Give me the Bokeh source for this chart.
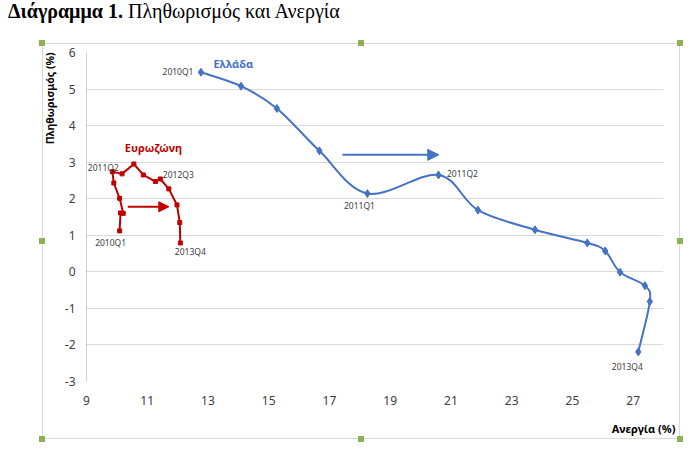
import numpy as np
from bokeh.plotting import figure
from bokeh.layouts import column
from bokeh.models import (Label, Arrow, NormalHead, FixedTicker, Range1d, Title, Div,
                          InlineStyleSheet)
from bokeh.core.properties import value
from bokeh.embed import file_html
from bokeh.resources import INLINE

# Ελλάδα: ανεργία (%) / πληθωρισμός (%), 2010Q1 -> 2013Q4
greece_unemp = [12.77, 14.09, 15.27, 16.67, 18.25, 20.59, 21.89, 23.77, 25.49, 26.08, 26.57, 27.39, 27.55, 27.17]
greece_infl = [5.46, 5.08, 4.47, 3.31, 2.14, 2.65, 1.69, 1.15, 0.79, 0.57, -0.01, -0.38, -0.81, -2.19]

# Ευρωζώνη
ez_unemp = [10.09, 10.12, 10.21, 10.09, 9.90, 9.85, 10.17, 10.56, 10.87, 11.27, 11.43, 11.71, 11.98, 12.07, 12.09]
ez_infl = [1.12, 1.61, 1.60, 2.01, 2.43, 2.74, 2.68, 2.95, 2.65, 2.47, 2.54, 2.27, 1.83, 1.35, 0.79]

# σημεία με ετικέτα: (δείκτης, κείμενο, x_offset, y_offset)
greece_labels = [(0, "2010Q1", -23, -1), (4, "2011Q1", -8, 12), (5, "2011Q2", 24, -1), (13, "2013Q4", -11, 15)]
ez_labels = [(0, "2010Q1", -9, 12), (5, "2011Q2", -9, -4), (10, "2012Q3", 18, -4), (14, "2013Q4", 10, 9)]

x_ticks = list(range(9, 28, 2))
y_ticks = list(range(-3, 7))

BLUE = "#4472c4"
RED = "#c00000"
GREY_TXT = "#404040"
FONT = "Noto Sans"

# πλαίσιο του γραφήματος (όπως στο excel) με τις πράσινες λαβές
GREEN = "linear-gradient(#8db255, #8db255)"
frame_css = InlineStyleSheet(css="""
:host { overflow: visible; }
:host::before {
  content: ""; position: absolute; left: 6px; top: 0px; width: 638px; height: 396px;
  border: 1.5px solid #d9d9d9; box-sizing: border-box; pointer-events: none; z-index: 9;
}
:host::after {
  content: ""; position: absolute; left: 3px; top: -3px; width: 644px; height: 402px;
  pointer-events: none; z-index: 10;
  background-image: %s;
  background-size: 6px 6px; background-repeat: no-repeat;
  background-position: left top, center top, right top, left center, right center,
    left bottom, center bottom, right bottom;
}
""" % ", ".join([GREEN] * 8))

p = figure(frame_width=577, frame_height=329,
           x_range=Range1d(9, 28), y_range=Range1d(-3, 6),
           min_border_left=50, min_border_right=17, min_border_top=9, min_border_bottom=59,
           output_backend="svg", toolbar_location=None, margin=(0, 0, 0, 36),
           stylesheets=[frame_css])
p.outline_line_color = None
p.background_fill_color = "white"
p.border_fill_color = "white"

p.xgrid.grid_line_color = None
p.ygrid.grid_line_color = "#d9d9d9"
p.ygrid.ticker = FixedTicker(ticks=y_ticks)

p.xaxis.ticker = FixedTicker(ticks=x_ticks)
p.yaxis.ticker = FixedTicker(ticks=y_ticks)
p.yaxis.major_label_overrides = {t: str(t) for t in y_ticks}
for ax in (p.xaxis, p.yaxis):
    ax.major_tick_line_color = None
    ax.minor_tick_line_color = None
    ax.major_label_text_font = FONT
    ax.major_label_text_font_size = "12px"
    ax.major_label_text_color = GREY_TXT
p.xaxis.axis_line_color = None
p.yaxis.axis_line_color = "#d0d0d0"
p.xaxis.major_label_standoff = 8
p.yaxis.major_label_standoff = 5

# τίτλοι αξόνων
p.add_layout(Title(text="Πληθωρισμός (%)", align="right", offset=0, standoff=9,
                   text_font=FONT, text_font_size="10.5px", text_font_style="bold", text_color="black"), "left")
p.add_layout(Title(text="Ανεργία (%)", align="right", offset=-12, standoff=23,
                   text_font=FONT, text_font_size="11px", text_font_style="bold", text_color="black"), "below")

# εξομαλυμένη γραμμή για την Ελλάδα (catmull-rom -> bezier)
gx = np.array(greece_unemp)
gy = np.array(greece_infl)
px = np.concatenate([[gx[0]], gx, [gx[-1]]])
py = np.concatenate([[gy[0]], gy, [gy[-1]]])
t = 1 / 6
x0, y0 = gx[:-1], gy[:-1]
x1, y1 = gx[1:], gy[1:]
cx0 = x0 + (px[2:-1] - px[:-3]) * t
cy0 = y0 + (py[2:-1] - py[:-3]) * t
cx1 = x1 - (px[3:] - px[1:-2]) * t
cy1 = y1 - (py[3:] - py[1:-2]) * t
p.bezier(x0=x0, y0=y0, x1=x1, y1=y1, cx0=cx0, cy0=cy0, cx1=cx1, cy1=cy1,
         line_color=BLUE, line_width=2)
p.scatter(greece_unemp, greece_infl, marker="diamond", size=8, color=BLUE)

p.line(ez_unemp, ez_infl, line_color=RED, line_width=2)
p.scatter(ez_unemp, ez_infl, marker="square", size=4, color=RED)

# ετικέτες σημείων
for xs, ys, labels in ((greece_unemp, greece_infl, greece_labels), (ez_unemp, ez_infl, ez_labels)):
    p.text(x=[xs[i] for i, *_ in labels], y=[ys[i] for i, *_ in labels],
           text=[l[1] for l in labels], x_offset=[l[2] for l in labels], y_offset=[l[3] for l in labels],
           text_font=value(FONT), text_font_size="8.5px", text_color=GREY_TXT,
           text_align="center", text_baseline="middle")

p.add_layout(Label(x=13.18, y=5.69, text="Ελλάδα", text_font=FONT, text_font_size="11px",
                   text_font_style="bold", text_color=BLUE, text_baseline="middle"))
p.add_layout(Label(x=10.26, y=3.40, text="Ευρωζώνη", text_font=FONT, text_font_size="11px",
                   text_font_style="bold", text_color=RED, text_baseline="middle"))

# βέλη κατεύθυνσης
p.add_layout(Arrow(x_start=17.43, y_start=3.20, x_end=20.60, y_end=3.20, line_color=BLUE, line_width=2,
                   end=NormalHead(size=11, fill_color=BLUE, line_color=BLUE)))
p.add_layout(Arrow(x_start=10.36, y_start=1.78, x_end=11.71, y_end=1.78, line_color=RED, line_width=2,
                   end=NormalHead(size=10, fill_color=RED, line_color=RED)))

# τίτλος διαγράμματος
title = Div(text='<div style="padding-left:8px; font-family:\'Liberation Serif\'; font-size:20px; '
                 'line-height:23px; color:black; white-space:nowrap">'
                 '<b>Διάγραμμα 1.</b> Πληθωρισμός και Ανεργία</div>',
            width=400, height=43, margin=(0, 0, 0, 0))

layout = column(title, p, spacing=0)
open("out.html", "w").write(file_html(layout, INLINE))
